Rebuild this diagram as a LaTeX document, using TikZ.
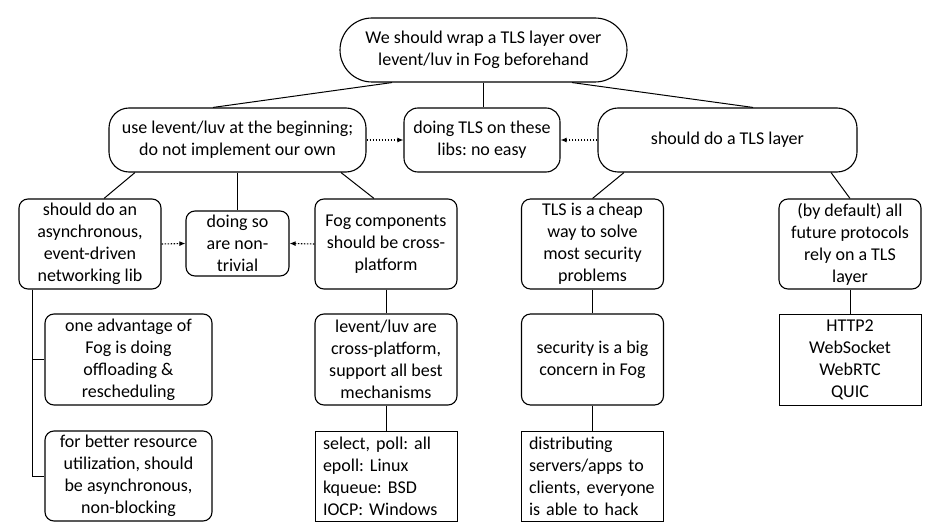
\documentclass[tikz,border=0pt]{standalone}
\usepackage{fontspec}
\setmainfont{Carlito}
\frenchspacing
\usetikzlibrary{arrows.meta}
\tikzset{
  box/.style={draw, line width=1.1pt, inner sep=0pt, align=center, font=\fontsize{18}{22}\selectfont},
  rbox/.style={box, rounded corners=9pt, minimum width=142pt, minimum height=90pt},
  sbox/.style={box, line width=1pt, minimum width=142pt, minimum height=90pt},
  link/.style={line width=1pt},
  dotarrow/.style={line width=1.1pt, dash pattern=on 1.5pt off 1.5pt, -{Latex[length=6pt,width=5pt]}},
}
\begin{document}
\begin{tikzpicture}[x=1pt, y=-1pt]
    \useasboundingbox (0,0) rectangle (940,532);

    % Root
    \node[box, rounded corners=32pt, minimum width=287pt, minimum height=64pt] (root) at (483.5,50) {We should wrap a TLS layer over\\levent/luv in Fog beforehand};

    % Second level
    \node[box, rounded corners=20pt, minimum width=257pt, minimum height=64pt] (use) at (237.5,140) {use levent/luv at the beginning;\\do not implement our own};
    \node[box, rounded corners=14pt, minimum width=156pt, minimum height=64pt] (noeasy) at (482,140) {doing TLS on these\\libs: no easy};
    \node[box, rounded corners=20pt, minimum width=259pt, minimum height=64pt] (tls) at (727.5,140) {should do a TLS layer};

    \draw[link] ([xshift=-91.5pt]root.south) -- ([xshift=-24.5pt]use.north);
    \draw[link] (root.south) -- (root.south |- noeasy.north);
    \draw[link] ([xshift=88.5pt]root.south) -- ([xshift=25.5pt]tls.north);
    \draw[dotarrow] (use.east) -- (noeasy.west);
    \draw[dotarrow] (tls.west) -- (noeasy.east);

    % Third level
    \node[rbox] (async) at (90,244) {should do an\\asynchronous,\\event-driven\\networking lib};
    \node[rbox, minimum width=103pt, minimum height=65pt] (trivial) at (237.5,243.5) {doing so\\are non-\\trivial};
    \node[rbox] (cross) at (386,244) {Fog components\\should be cross-\\platform};
    \node[rbox] (cheap) at (592.5,244) {TLS is a cheap\\way to solve\\most security\\problems};
    \node[rbox] (future) at (850,244) {(by default) all\\future protocols\\rely on a TLS\\layer};

    \draw[link] ([xshift=-102.5pt]use.south) -- ([xshift=14pt]async.north);
    \draw[link] (use.south) -- (trivial.north);
    \draw[link] ([xshift=103.5pt]use.south) -- ([xshift=-12pt]cross.north);
    \draw[link] ([xshift=-103.5pt]tls.south) -- (cheap.north);
    \draw[link] ([xshift=103.5pt]tls.south) -- (future.north);
    \draw[dotarrow] (async.east) -- (trivial.west);
    \draw[dotarrow] (cross.west) -- (trivial.east);

    % Fourth level
    \node[rbox, minimum width=167pt, minimum height=91pt] (offload) at (128.5,359.5) {one advantage of\\Fog is doing\\offloading \&\\rescheduling};
    \node[rbox, minimum width=167pt] (better) at (128.5,476) {for better resource\\utilization, should\\be asynchronous,\\non-blocking};
    \node[rbox, minimum height=91pt] (luv) at (386,359.5) {levent/luv are\\cross-platform,\\support all best\\mechanisms};
    \node[sbox, text width=126pt, align=left] (mech) at (386,476) {select, poll: all\\epoll: Linux\\kqueue: BSD\\IOCP: Windows};
    \node[rbox, minimum height=91pt] (concern) at (592.5,359.5) {security is a big\\concern in Fog};
    \node[sbox, text width=126pt, align=left] (hack) at (592,476) {distributing\\servers/apps to\\clients, everyone\\is able to hack};
    \node[sbox, minimum height=91pt] (proto) at (850,359.5) {HTTP2\\WebSocket\\WebRTC\\QUIC};

    \draw[link] ([xshift=-58pt]async.south) |- (offload.west);
    \draw[link] ([xshift=-58pt]async.south) |- (better.west);
    \draw[link] (cross.south) -- (luv.north);
    \draw[link] (luv.south) -- (mech.north);
    \draw[link] (cheap.south) -- (concern.north);
    \draw[link] (concern.south) -- (concern.south |- hack.north);
    \draw[link] (future.south) -- (proto.north);
\end{tikzpicture}
\end{document}
